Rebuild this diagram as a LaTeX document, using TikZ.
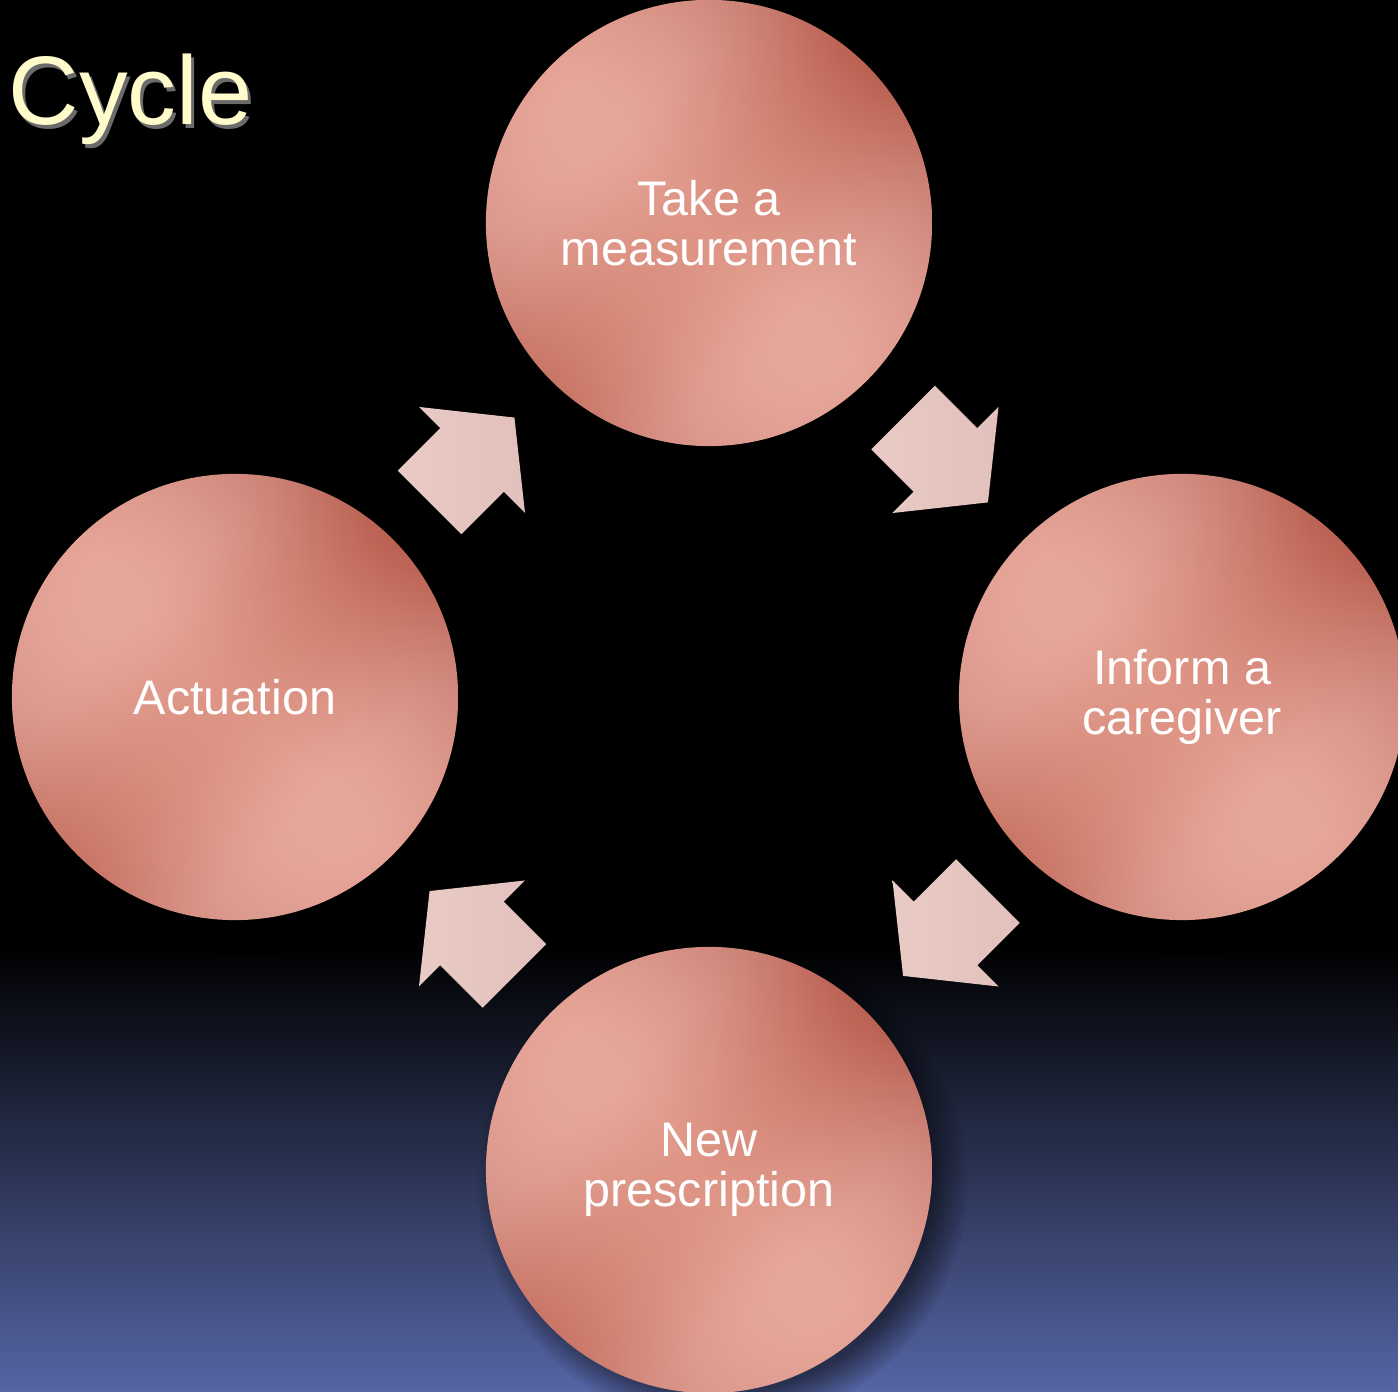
\documentclass[tikz,border=0pt]{standalone}
\usepackage{fontspec}
\setmainfont{Liberation Sans}
\usetikzlibrary{calc,shadows}

\definecolor{rosa}{HTML}{F3DAD5}
\definecolor{rosascuro}{HTML}{E2C0BB}
\definecolor{blu}{HTML}{5565A5}
\definecolor{crema}{HTML}{FFFBCB}

% sfumatura dei cerchi: bande chiare in diagonale, angoli in alto a destra e in basso a sinistra piu' scuri
\pgfdeclarefunctionalshading{metallo}{\pgfpoint{0bp}{0bp}}{\pgfpoint{100bp}{100bp}}{}{
  50 sub 25 div exch 50 sub 25 div
  2 copy add 0.7071 mul 3 1 roll exch sub 0.7071 mul
  dup mul 0.42 sub dup 0 lt {0.45 div} {1.2 div} ifelse dup mul 1 exch sub dup 0 lt {pop 0} if
  exch dup 0 gt {dup 0.6 mul 0.4 add mul} {dup mul 0.6 mul} ifelse
  2 copy 0.142 mul neg exch 0.038 mul add 0.865 add 3 1 roll
  2 copy 0.204 mul neg exch 0.085 mul add 0.572 add 3 1 roll
  0.204 mul neg exch 0.100 mul add 0.510 add
}

\begin{document}
\begin{tikzpicture}[x=0.01cm, y=0.01cm,
    cerchio/.style={circle, minimum size=4.46cm, inner sep=0pt, align=center, text=white,
      font=\fontsize{13.8}{14.2}\selectfont,
      circular drop shadow={shadow xshift=0.12cm, shadow yshift=-0.12cm, fill=black, opacity=0.5},
      shading=metallo},
    pics/freccia/.style={code={
      \fill[left color=rosascuro!60!rosa, middle color=rosa, right color=rosascuro]
        (-60,-45) -- (0,-45) -- (0,-75) -- (60,0) -- (0,75) -- (0,45) -- (-60,45) -- cycle;}}]
\useasboundingbox (0,0) rectangle (1398,1392);

% Sfondo
\fill[black] (0,0) rectangle (1398,1392);
\shade[bottom color=blu, top color=black] (0,0) rectangle (1398,447); % parte bassa blu

% Cerchi del ciclo
\node[cerchio] (misura) at (709,1169) {Take a\\measurement};
\node[cerchio] (avviso) at (1182,695) {Inform a\\caregiver};
\node[cerchio] (ricetta) at (709,222) {New\\prescription};
\node[cerchio] (attuazione) at (235,695) {Actuation};

% Frecce tra i cerchi
\pic[rotate=-45] at ($(misura)!0.5!(avviso)$) {freccia};
\pic[rotate=-135] at ($(avviso)!0.5!(ricetta)$) {freccia};
\pic[rotate=135] at ($(ricetta)!0.5!(attuazione)$) {freccia};
\pic[rotate=45] at ($(attuazione)!0.5!(misura)$) {freccia};

% Titolo con ombra
\node[anchor=base west, inner sep=0pt, text=gray!80, opacity=0.7, font=\fontsize{27.7}{30}\selectfont] (ombra) at (11,1263) {Cycle};
\node[anchor=base west, inner sep=0pt, text=crema, font=\fontsize{27.7}{30}\selectfont] (titolo) at (8,1267) {Cycle};

\end{tikzpicture}
\end{document}
